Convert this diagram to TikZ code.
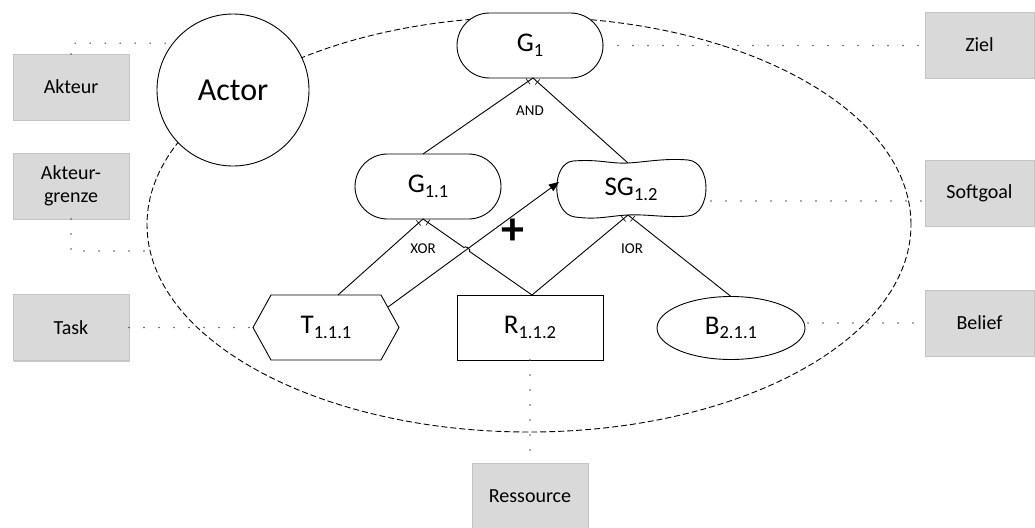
\documentclass[tikz,border=0pt]{standalone}
\usepackage{fontspec}
\setmainfont{Carlito}
\usetikzlibrary{arrows.meta,calc,intersections,decorations.markings,shadows,shapes.geometric}

\definecolor{boxgray}{HTML}{D9D9D9}
\definecolor{boxedge}{HTML}{C4C4C4}
\definecolor{dotgray}{HTML}{555555}

% element label with lowered index
\newcommand{\gsub}[1]{\raisebox{-4.8pt}{\fontsize{18.5}{19}\selectfont #1}}
\newcommand{\elemfont}{\fontsize{27}{32}\selectfont}
\newcommand{\lblfont}{\fontsize{20}{23}\selectfont}

\begin{document}
\begin{tikzpicture}[x=1pt,y=-1pt,line width=0.9pt,
  every node/.style={inner sep=0pt,outer sep=0pt},
  elem/.style={draw,fill=white,minimum width=146pt,minimum height=65pt,font=\elemfont},
  boundary/.style={ellipse,draw,dash pattern=on 6pt off 3pt,minimum width=764pt,minimum height=415pt},
  lbl/.style={fill=boxgray,draw=boxedge,line width=0.5pt,minimum width=116pt,minimum height=66pt,
    font=\lblfont,align=center,
    drop shadow={shadow xshift=1.2pt,shadow yshift=-1.2pt,fill=black,opacity=0.22}},
  dotline/.style={draw=dotgray,line width=1.6pt,line cap=round,dash pattern=on 0pt off 15pt},
  opfont/.style={font=\fontsize{15}{17}\selectfont},
  declink/.style={draw,postaction={decorate,decoration={markings,
      mark=at position 6pt with {\draw[line width=0.6pt] (0,-3.5pt) -- (0,3.5pt);}}}}]
\useasboundingbox (0,0) rectangle (1035,527);

% actor boundary
\node[boundary] (bd) at (529,224.5) {};

% actor
\node[draw,fill=white,circle,minimum size=152pt,font=\fontsize{32}{36}\selectfont] (actor) at (233,90) {Actor};

% intentional elements
\node[elem,rounded corners=32.5pt] (G1) at (530,45.5) {G\gsub{1}};
\node[elem,rounded corners=32.5pt] (G11) at (428,186.5) {G\gsub{1.1}};
\node[minimum width=148pt,minimum height=56pt,font=\elemfont] (SG) at (631,189) {SG\gsub{1.2}};
\draw[shift={(SG.center)}]
  (-58,-28) .. controls (-31,-30) and (-21,-25) .. (-3,-26)
  .. controls (15,-27) and (34,-31) .. (57,-29)
  .. controls (81,-27) and (81,25) .. (57,27)
  .. controls (34,29) and (17,25) .. (-3,26)
  .. controls (-23,27) and (-33,31) .. (-56,28)
  .. controls (-80,25) and (-80,-26) .. cycle;
\node[minimum width=146pt,minimum height=65pt,font=\elemfont] (T) at (326,327.5) {T\gsub{1.1.1}};
\draw[shift={(T.center)}]
  (-73,0) -- (-55,-32.5) -- (55,-32.5) -- (73,0) -- (55,32.5) -- (-55,32.5) -- cycle;
\node[elem] (R) at (530,327.5) {R\gsub{1.1.2}};
\node[elem,ellipse,minimum width=148pt,minimum height=63pt] (B) at (731,328) {B\gsub{2.1.1}};

% legend boxes
\node[lbl] (akteur) at (71,87) {Akteur};
\node[lbl] (grenze) at (71,186) {Akteur-\\grenze};
\node[lbl] (task) at (71,327.5) {Task};
\node[lbl,minimum width=109pt] (ziel) at (979.5,45) {Ziel};
\node[lbl,minimum width=109pt] (softgoal) at (979.5,193) {Softgoal};
\node[lbl,minimum width=109pt] (belief) at (979.5,323) {Belief};
\node[lbl] (ressource) at (530,496) {Ressource};

% legend leaders
\coordinate (sgout) at ($(SG.east)+(6,12)$);
\coordinate (bout) at ($(B.east)+(3,-5)$);
\draw[dotline] (akteur.north) |- (actor.142);
\draw[dotline] (grenze.south) |- (bd.184);
\draw[dotline] (task.east) -- (T.west);
\draw[dotline] (G1.east) -- (G1.east -| ziel.west);
\draw[dotline] (sgout) -- (sgout -| softgoal.west);
\draw[dotline] (bout) -- (bout -| belief.west);
\draw[dotline] (R.south) -- (ressource.north);

% decomposition links
\coordinate (g1b) at ($(G1.south)+(3,0)$);
\coordinate (g11t) at ($(G11.north)+(-5,0)$);
\coordinate (g11b) at ($(G11.south)+(-5,0)$);
\coordinate (sgt) at ($(SG.north)+(-3,2)$);
\coordinate (sgb) at ($(SG.south)+(-3,-2)$);
\coordinate (tt) at ($(T.north)+(12,0)$);
\coordinate (rt) at ($(R.north)+(2,0)$);
\draw[declink] (g1b) -- (g11t);
\draw[declink] (g1b) -- (sgt);
\draw[declink] (g11b) -- (tt);
\draw[declink] (sgb) -- (rt);
\draw[declink] (sgb) -- (B.north);

% contribution link with line hop
\coordinate (tout) at ($(T.center)+(62,-20.5)$);
\coordinate (sgin) at ($(SG.west)+(2,-7)$);
\path[name path=decr] (g11b) -- (rt);
\path[name path=contrib] (tout) -- (sgin);
\path[name intersections={of=decr and contrib,by=hop}];
\draw[declink] (g11b) -- ($(hop)!3.5pt!(g11b)$) to[bend left=90] ($(hop)!3.5pt!(rt)$) -- (rt);
\draw[-{Triangle[length=10pt,width=8pt]}] (tout) -- (sgin);

% operators
\node[opfont] (and) at (530,111) {AND};
\node[opfont] (xor) at (423,249) {XOR};
\node[opfont] (ior) at (632,249) {IOR};
\node[font=\fontsize{46}{46}\selectfont\bfseries] (plus) at (513,232) {+};
\end{tikzpicture}
\end{document}
